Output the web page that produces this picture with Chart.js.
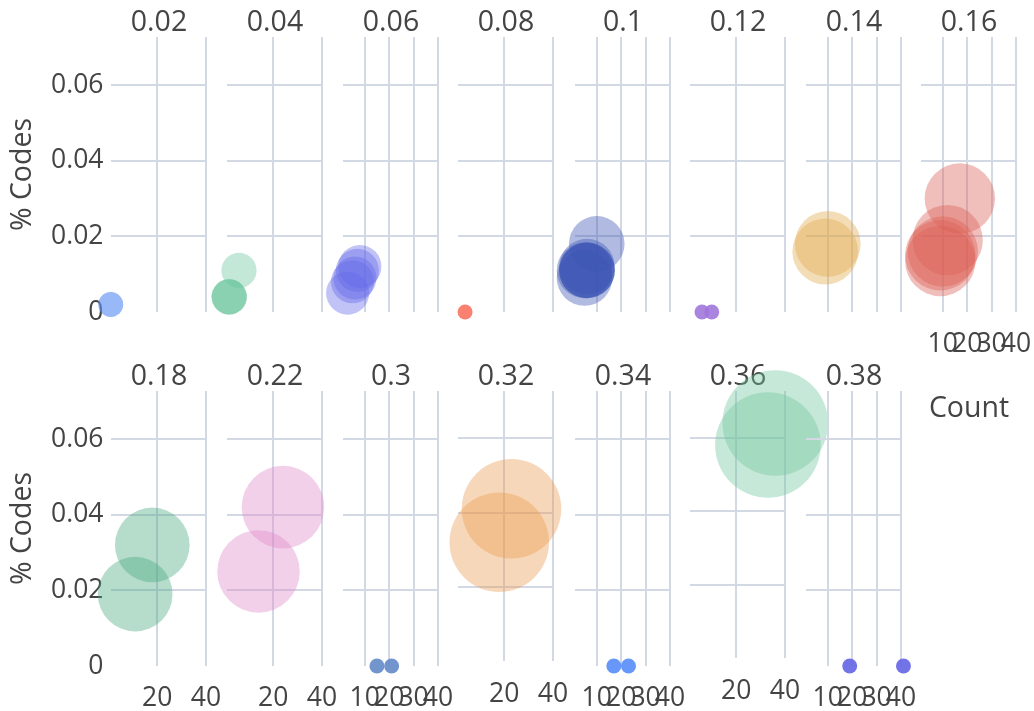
<!DOCTYPE html>
<html lang="en">
<head>
<meta charset="UTF-8">
<title>% Codes by Count</title>
<script src="https://cdn.jsdelivr.net/npm/chart.js@4.4.1/dist/chart.umd.min.js"></script>
<style>
  html, body { margin: 0; padding: 0; background: #fff; overflow: hidden; }
  #wrap { position: relative; width: 1034px; height: 711px; overflow: hidden; }
  #wrap canvas { position: absolute; left: 0; top: 0; }
</style>
</head>
<body>
<div id="wrap"></div>
<script>
// facet values (one small panel each)
const facets = ['0.02', '0.04', '0.06', '0.08', '0.1', '0.12', '0.14', '0.16',
                '0.18', '0.22', '0.3', '0.32', '0.34', '0.36', '0.38'];

// Count per point, one list per facet
const counts = [
  [1, 1],
  [2, 2, 2, 6],
  [3, 5, 6, 7, 8],
  [4],
  [5, 6, 6, 6, 6, 5, 10],
  [6, 10],
  [9, 10],
  [17, 12, 10, 9, 9],
  [11, 18],
  [14, 24],
  [15, 21],
  [18, 23],
  [17, 23],
  [33, 36],
  [19, 41]
];

// % Codes per point, same order as counts
const codes = [
  [0.002, 0.002],
  [0.004, 0.004, 0.004, 0.011],
  [0.005, 0.008, 0.009, 0.011, 0.012],
  [0],
  [0.009, 0.011, 0.011, 0.012, 0.011, 0.011, 0.018],
  [0, 0],
  [0.016, 0.018],
  [0.030, 0.019, 0.016, 0.015, 0.0135],
  [0.019, 0.032],
  [0.025, 0.042],
  [0, 0],
  [0.032, 0.041],
  [0, 0],
  [0.058, 0.064],
  [0, 0]
];

// x tick spacing per column
const xTickSteps = [20, 20, 10, 20, 10, 20, 10, 10];
const yTickStep = 0.02;

const fills = [
  'rgba(95,145,245,0.4)', 'rgba(108,198,158,0.4)', 'rgba(100,105,232,0.4)', 'rgba(250,115,95,0.9)',
  'rgba(60,85,180,0.4)', 'rgba(160,120,220,0.9)', 'rgba(225,170,75,0.4)', 'rgba(220,95,85,0.4)',
  'rgba(73,170,128,0.4)', 'rgba(222,137,200,0.4)', 'rgba(100,137,200,0.9)', 'rgba(235,155,80,0.4)',
  'rgba(85,140,248,0.9)', 'rgba(112,198,158,0.4)', 'rgba(100,100,230,0.9)'
];

Chart.defaults.font.family = '"Open Sans", "Noto Sans", sans-serif';
Chart.defaults.color = '#444';

// canvases are wider than the page so edge labels never squeeze the last panel
const CW = 1200, H = 711;
const colLeft = [111, 227, 343, 458, 575, 690, 806, 921];
const panelW = 96;
const gridColor = 'rgb(210,216,228)';
const wrap = document.getElementById('wrap');

facets.forEach((f, i) => {
  const row = i < 8 ? 0 : 1;
  const col = row ? i - 8 : i;
  const left = colLeft[col];
  const rowTop = row ? 354 : 0;
  const panelBottom = row ? 666 : 312;
  const showX = row === 1 || col === 7;
  const showY = col === 0;
  const bigR = 88 * Math.sqrt(parseFloat(f));

  const cv = document.createElement('canvas');
  cv.width = CW; cv.height = H;
  wrap.appendChild(cv);

  new Chart(cv, {
    type: 'scatter',
    data: {
      datasets: [{
        data: counts[i].map((c, k) => ({ x: c, y: codes[i][k] })),
        backgroundColor: fills[i],
        borderWidth: 0,
        pointRadius: ctx => (ctx.raw && ctx.raw.y === 0 ? 7.5 : bigR),
        clip: false
      }]
    },
    options: {
      responsive: false,
      animation: false,
      devicePixelRatio: 1,
      events: [],
      layout: { padding: { top: rowTop, left: 0, right: CW - (left + panelW), bottom: 0 } },
      plugins: { legend: { display: false }, tooltip: { enabled: false } },
      scales: {
        x: {
          type: 'linear', position: 'bottom', min: 1.1, max: 40.4,
          afterFit: s => { s.height = H - panelBottom; },
          grid: { color: gridColor, lineWidth: 2, drawTicks: false },
          border: { display: false },
          ticks: {
            display: showX, stepSize: xTickSteps[col], includeBounds: false,
            autoSkip: false, maxRotation: 0, padding: 17,
            font: { size: 26.5 }, callback: v => String(v)
          },
          title: { display: i === 7, text: 'Count', font: { size: 28.5 }, padding: { top: 0, bottom: 285 } }
        },
        top: {
          type: 'linear', position: 'top', min: 0, max: 1,
          afterFit: s => { s.height = 37; },
          grid: { display: false }, border: { display: false },
          ticks: { display: false },
          title: { display: true, text: f, font: { size: 28.5 }, padding: { top: 5.5, bottom: 0 } }
        },
        y: {
          type: 'linear', position: 'left', min: 0, max: 0.0727,
          afterFit: s => { s.width = left; },
          grid: {
            drawTicks: false, lineWidth: 2,
            color: c => (c.tick && c.tick.value === 0 ? 'rgba(0,0,0,0)' : gridColor)
          },
          border: { display: false },
          ticks: {
            display: showY, stepSize: yTickStep, includeBounds: false, padding: 7.5,
            font: { size: 26.5 }, callback: v => String(+v.toFixed(2))
          },
          title: { display: showY, text: '% Codes', font: { size: 28.5 }, padding: { top: 6, bottom: 0 } }
        }
      }
    }
  });
});
</script>
</body>
</html>
